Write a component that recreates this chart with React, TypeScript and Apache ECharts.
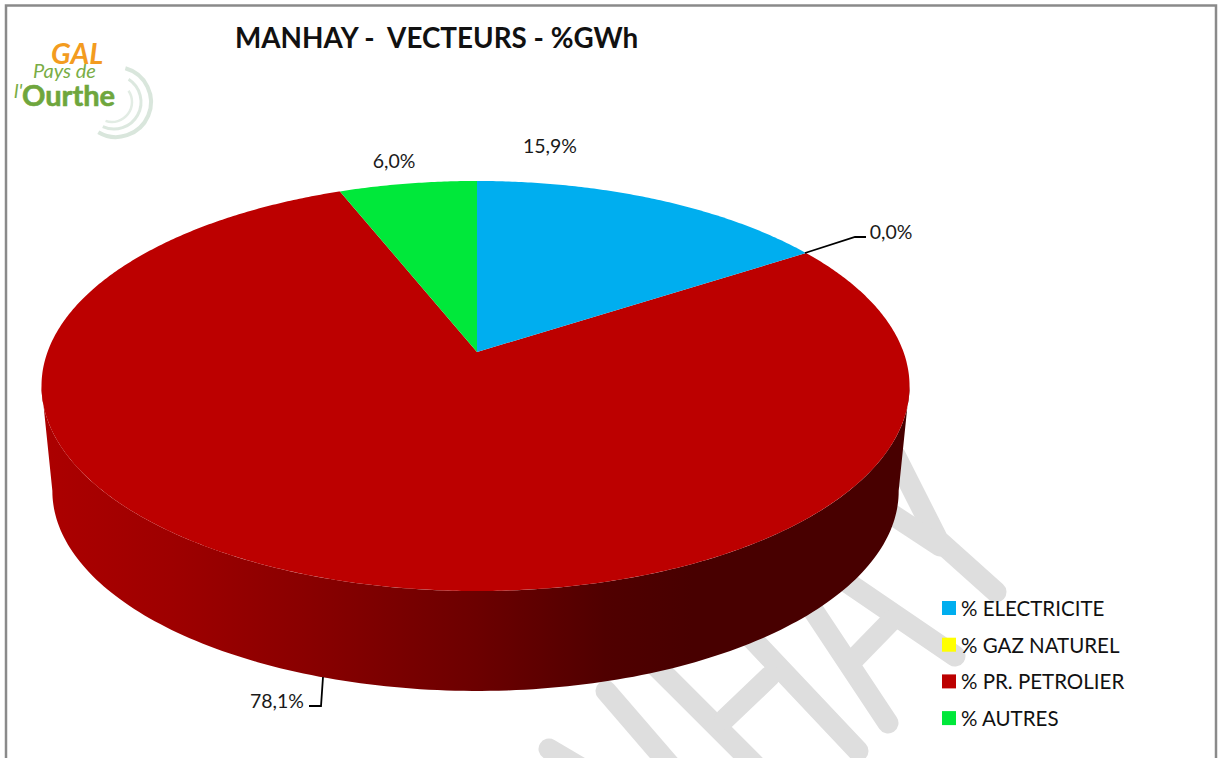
import React, { useEffect, useRef } from "react";
import * as echarts from "echarts";

const categories = ["% ELECTRICITE", "% GAZ NATUREL", "% PR. PETROLIER", "% AUTRES"];
const shares = [15.9, 0.0, 78.1, 6.0];
const colors = ["#00AEEF", "#FFFF00", "#BC0000", "#00E83A"];
const chartTitle = "MANHAY -  VECTEURS - %GWh";

const FONT = "Lato, 'Open Sans', sans-serif";
const TOTAL = shares.reduce((a, b) => a + b, 0);
const starts = shares.map((_, i) => shares.slice(0, i).reduce((a, b) => a + b, 0));

// Perspective projection of the pie disc
const CX = 475.5;
const CY = 352;
const A = 428;
const B = 199.4;
const P = 0.1659;
const DEPTH = 105;
const SHRINK = 0.975;
const ELLIPSE_Y = 386;
const APEX_X = 477;

function top(thetaDeg: number): number[] {
  const t = (thetaDeg * Math.PI) / 180;
  const u = Math.sin(t);
  const v = -Math.cos(t);
  const d = 1 - P * v;
  return [CX + (A * u) / d + (APEX_X - CX) * (1 - Math.abs(u)), CY + (B * v) / d];
}
function bottom(thetaDeg: number): number[] {
  const [x, y] = top(thetaDeg);
  return [CX + (x - CX) * SHRINK, ELLIPSE_Y + (y - ELLIPSE_Y) * SHRINK + DEPTH];
}
const labelPositions = [
  { x: 550, y: 145 },
  { x: 891, y: 231 },
  { x: 277, y: 700 },
  { x: 394, y: 160 },
];
const leaderLines: (number[][] | null)[] = [
  null,
  [[805, 253], [855, 237], [866, 237]],
  [[323, 677], [321, 706], [309, 706]],
  null,
];

const wallGradient = {
  type: "linear",
  x: 0,
  y: 0,
  x2: 1,
  y2: 0,
  colorStops: [
    { offset: 0, color: "#AC0000" },
    { offset: 0.15, color: "#9E0000" },
    { offset: 0.3, color: "#8A0000" },
    { offset: 0.5, color: "#6C0000" },
    { offset: 0.65, color: "#500000" },
    { offset: 0.75, color: "#480000" },
    { offset: 1, color: "#480000" },
  ],
};

function sliceItem(i: number) {
  return () => {
    const children: any[] = [];
    const a0 = (starts[i] / TOTAL) * 360;
    const a1 = ((starts[i] + shares[i]) / TOTAL) * 360;
    // side wall, for the front part of the disc
    const w0 = Math.max(a0, 99.5);
    const w1 = Math.min(a1, 260.5);
    if (w1 > w0) {
      const pts: number[][] = [];
      for (let a = w0; a <= w1; a += 1) pts.push(top(a));
      for (let a = w1; a >= w0; a -= 1) pts.push(bottom(a));
      children.push({
        type: "polygon",
        shape: { points: pts },
        style: { fill: wallGradient as any },
      });
    }
    if (a1 > a0) {
      const pts: number[][] = [[APEX_X, CY]];
      for (let a = a0; a < a1; a += 0.5) pts.push(top(a));
      pts.push(top(a1));
      children.push({
        type: "polygon",
        shape: { points: pts },
        style: { fill: colors[i] },
      });
    }
    const line = leaderLines[i];
    if (line) {
      children.push({
        type: "polyline",
        shape: { points: line },
        style: { stroke: "#000", lineWidth: 1.8, fill: "none" },
      });
    }
    children.push({
      type: "text",
      style: {
        x: labelPositions[i].x,
        y: labelPositions[i].y,
        text: shares[i].toFixed(1).replace(".", ",") + "%",
        font: `19.5px ${FONT}`,
        fill: "#1a1a1a",
        align: "center",
        verticalAlign: "middle",
      },
    });
    return { type: "group", children };
  };
}

const watermarkStrokes = [
  // Y
  [[895, 455], [938, 540], [996, 592]],
  [[870, 500], [940, 546]],
  // A
  [[760, 523], [955, 656]],
  [[760, 530], [888, 723]],
  [[892, 620], [855, 658]],
  // H
  [[725, 610], [858, 751]],
  [[640, 650], [790, 800]],
  [[770, 676], [725, 719]],
  // N
  [[606, 691], [700, 800]],
  [[549, 749], [610, 785]],
];

function App() {
  const ref = useRef<HTMLDivElement | null>(null);
  useEffect(() => {
    const chart = echarts.init(ref.current!, null, { renderer: "svg" });
    chart.setOption({
      animation: false,
      backgroundColor: "#fff",
      title: {
        text: chartTitle,
        left: 230,
        top: 18,
        textStyle: { fontFamily: FONT, fontWeight: "bold", fontSize: 27.8, color: "#111" },
      },
      legend: {
        orient: "vertical",
        left: 937,
        top: 592,
        itemWidth: 14,
        itemHeight: 14,
        itemGap: 14.7,
        icon: "rect",
        selectedMode: false,
        data: categories,
        textStyle: { fontFamily: FONT, fontSize: 20.5, color: "#111", height: 22, lineHeight: 22 },
      },
      graphic: [
        {
          type: "rect",
          silent: true,
          z: 0,
          shape: { x: 6, y: 5.5, width: 1210, height: 770 },
          style: { fill: "none", stroke: "#8a8a8a", lineWidth: 2.5 },
        },
        ...watermarkStrokes.map((points) => ({
          type: "polyline",
          silent: true,
          z: -1,
          shape: { points },
          style: { stroke: "#DEDEDE", lineWidth: 21, lineCap: "round", lineJoin: "miter", fill: "none" },
        })),
        { type: "arc", silent: true, shape: { cx: 116, cy: 102, r: 35, startAngle: -1.3, endAngle: 2.1 }, style: { stroke: "#D9E6DC", lineWidth: 4, fill: "none" } },
        { type: "arc", silent: true, shape: { cx: 114, cy: 102, r: 27, startAngle: -1.0, endAngle: 2.0 }, style: { stroke: "#DCE8DF", lineWidth: 3, fill: "none" } },
        { type: "arc", silent: true, shape: { cx: 112, cy: 102, r: 20, startAngle: -0.6, endAngle: 1.9 }, style: { stroke: "#E2ECE4", lineWidth: 2.5, fill: "none" } },
        { type: "text", silent: true, style: { x: 51, y: 38, text: "GAL", font: `italic bold 29px ${FONT}`, fill: "#F39C1F" } },
        { type: "text", silent: true, style: { x: 33, y: 60, text: "Pays de", font: `italic 20px ${FONT}`, fill: "#79AD45" } },
        { type: "text", silent: true, style: { x: 14, y: 80, text: "l'", font: `italic 20px ${FONT}`, fill: "#79AD45" } },
        { type: "text", silent: true, style: { x: 22, y: 80, text: "Ourthe", font: `bold 29px ${FONT}`, fill: "#6FA63D", stroke: "#6FA63D", lineWidth: 0.6 } },
      ],
      series: categories.map((name, i) => ({
        type: "custom",
        name,
        coordinateSystem: "none",
        itemStyle: { color: colors[i] },
        z: 2 + (i === 2 ? 0 : 1),
        data: [shares[i]],
        renderItem: sliceItem(i),
      })),
    });
    return () => chart.dispose();
  }, []);
  return <div ref={ref} style={{ position: "absolute", left: 0, top: 0, width: 1223, height: 758 }} />;
}

export default App;
